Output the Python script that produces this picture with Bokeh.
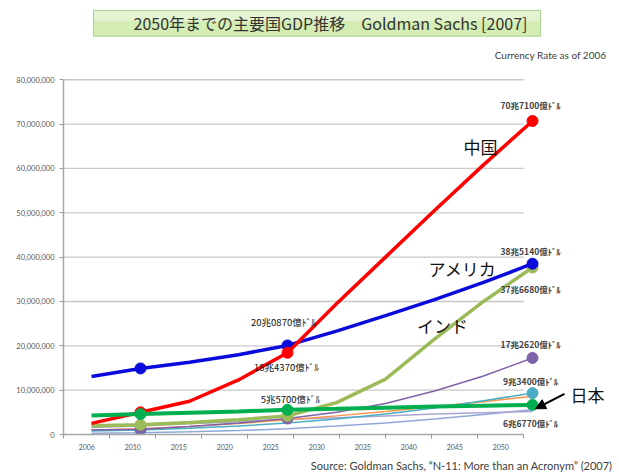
from bokeh.plotting import figure
from bokeh.models import Range1d, FixedTicker, NumeralTickFormatter, Title, Arrow, NormalHead
from bokeh.embed import file_html
from bokeh.resources import INLINE
from bokeh.core.properties import value

# ---------------- data (US$ million) ----------------
years = ["2006", "2010", "2015", "2020", "2025", "2030", "2035", "2040", "2045", "2050"]
china = [2_500_000, 5_000_000, 7_500_000, 12_300_000, 18_437_000, 29_500_000, 40_000_000, 50_500_000, 60_800_000, 70_710_000]
usa = [13_100_000, 14_900_000, 16_300_000, 18_000_000, 20_087_000, 23_300_000, 26_800_000, 30_400_000, 34_300_000, 38_514_000]
india = [2_000_000, 2_200_000, 2_700_000, 3_300_000, 4_200_000, 7_200_000, 12_500_000, 21_500_000, 30_000_000, 37_668_000]
japan = [4_300_000, 4_600_000, 4_900_000, 5_200_000, 5_570_000, 5_800_000, 6_050_000, 6_300_000, 6_500_000, 6_677_000]
purple_s = [1_000_000, 1_200_000, 1_800_000, 2_600_000, 3_600_000, 5_000_000, 7_000_000, 9_800_000, 13_200_000, 17_262_000]
lightblue_s = [800_000, 1_000_000, 1_400_000, 1_900_000, 2_600_000, 3_500_000, 4_600_000, 6_000_000, 7_600_000, 9_340_000]
orange_s = [1_000_000, 1_300_000, 1_800_000, 2_500_000, 3_300_000, 4_200_000, 5_200_000, 6_300_000, 7_400_000, 8_600_000]
lavender_s = [1_600_000, 1_900_000, 2_400_000, 2_900_000, 3_400_000, 3_800_000, 4_200_000, 4_600_000, 4_900_000, 5_200_000]
paleblue_s = [300_000, 400_000, 600_000, 900_000, 1_300_000, 1_900_000, 2_600_000, 3_500_000, 4_500_000, 5_600_000]
y_ticks = [0, 10_000_000, 20_000_000, 30_000_000, 40_000_000, 50_000_000, 60_000_000, 70_000_000, 80_000_000]
marker_years = ["2010", "2025", "2050"]

title_text = "2050年までの主要国GDP推移　Goldman Sachs [2007]"
currency_text = "Currency Rate as of 2006"
source_text = "Source: Goldman Sachs, \u201cN-11: More than an Acronym\u201d (2007)"

# ---------------- layout helpers (figure pixels) ----------------
W, H = 619, 475
LAB0, LABSTEP = 86.3, 46.0      # axis label positions
DAT0, DATSTEP = 91.0, 49.0      # data positions
Y0, PXM = 438.0, 4.475e-6       # px per unit value
FL, FR, FT, FB = 63, 612, 0, 438

def mx(px):
    return (px - LAB0) / LABSTEP

def dx(px):
    return (px - DAT0) / DATSTEP

def dy(py):
    return (Y0 - py) / PXM

def fmt(v):
    cho = int(v // 1_000_000)
    oku = int(round((v % 1_000_000) / 100))
    return f"{cho}兆{oku:04d}億ﾄﾞﾙ"

p = figure(width=W, height=H, output_backend="svg", toolbar_location=None,
           x_range=Range1d(mx(FL), mx(FR)), y_range=Range1d(0, dy(FT)),
           min_border_left=FL, min_border_right=W - FR, min_border_top=FT,
           min_border_bottom=H - FB)
p.extra_x_ranges = {"data": Range1d(dx(FL), dx(FR))}
p.outline_line_color = None
p.xgrid.visible = False
p.ygrid.visible = False
p.background_fill_color = "white"
p.border_fill_color = "white"

n = len(years)
# x axis
p.xaxis.ticker = FixedTicker(ticks=list(range(n)), minor_ticks=[i - 0.5 for i in range(n + 1)])
p.xaxis.major_label_overrides = {i: y for i, y in enumerate(years)}
p.xaxis.bounds = (-0.5, n - 0.5)
p.xaxis.major_tick_line_color = None
p.xaxis.major_tick_out = 0
p.xaxis.minor_tick_in = 0
p.xaxis.minor_tick_out = 4
p.xaxis.minor_tick_line_color = "#9a9a9a"
p.xaxis.axis_line_color = "#a6a6a6"
p.xaxis.axis_line_width = 1.5
p.xaxis.major_label_standoff = 5
p.xaxis.major_label_text_font = "Lato"
p.xaxis.major_label_text_font_size = "7px"
p.xaxis.major_label_text_color = "#595959"
# y axis
p.yaxis.ticker = FixedTicker(ticks=y_ticks)
p.yaxis.formatter = NumeralTickFormatter(format="0,0")
p.yaxis.bounds = (y_ticks[0], y_ticks[-1])
p.yaxis.major_tick_in = 0
p.yaxis.major_tick_out = 4
p.yaxis.major_tick_line_color = "#9a9a9a"
p.yaxis.minor_tick_line_color = None
p.yaxis.axis_line_color = "#a6a6a6"
p.yaxis.axis_line_width = 1.5
p.yaxis.major_label_standoff = 5
p.yaxis.major_label_text_font = "Lato"
p.yaxis.major_label_text_font_size = "7.5px"
p.yaxis.major_label_text_color = "#595959"

# gridlines limited to the original plot area
gt = y_ticks[1:]
p.segment(x0=[-0.5] * len(gt), x1=[n - 0.5] * len(gt), y0=gt, y1=gt,
          line_color="#c8c8c8", line_width=1.3)

# title box
p.quad(left=[mx(93)], right=[mx(540)], top=[dy(10)], bottom=[dy(36)],
       fill_color="#d3edb3", line_color=None)
p.quad(left=[mx(93)], right=[mx(540)], top=[dy(10)], bottom=[dy(21)],
       fill_color="#e4f4d0", line_color=None)
p.quad(left=[mx(93)], right=[mx(540)], top=[dy(10)], bottom=[dy(36)],
       fill_color=None, line_color="#a9d08e", line_width=1)
p.text(x=[mx(330)], y=[dy(23)], text=[title_text], text_font=value("Noto Sans CJK JP"),
       text_font_size="16px", text_color="#333333", text_align="center", text_baseline="middle")
p.text(x=[mx(606)], y=[dy(55)], text=[currency_text], text_font=value("Lato"),
       text_font_size="10px", text_color="#404040", text_align="right", text_baseline="middle")

idx = list(range(n))
mi = [years.index(y) for y in marker_years]

series = [
    (paleblue_s, "#8fa8d8", 1.5, False),
    (lavender_s, "#a9a6d2", 1.5, False),
    (orange_s, "#f79646", 1.5, False),
    (lightblue_s, "#4bacc6", 1.5, "end"),
    (purple_s, "#7f62a8", 1.5, True),
    (india, "#9bbb59", 3.5, True),
    (usa, "#0a0adc", 3.5, True),
    (china, "#ff0000", 3.5, True),
    (japan, "#00b050", 4.0, True),
]
for vals, col, lw, mk in series:
    p.line(x=idx, y=vals, x_range_name="data", line_color=col, line_width=lw)
    if mk:
        pts = mi if mk is True else [mi[0], mi[-1]]
        p.scatter(x=pts, y=[vals[i] for i in pts], x_range_name="data", size=11,
                  fill_color=col, line_color=col)

# 2050 value labels
last = n - 1
end_series = [china, usa, india, purple_s, lightblue_s, japan]
end_offsets = [-16, -13, 22, -14, -12, 18]
p.text(x=[last] * len(end_series), y=[s[last] for s in end_series],
       text=[fmt(s[last]) for s in end_series], x_range_name="data",
       x_offset=-2, y_offset=end_offsets, text_font=value("Noto Sans CJK JP"),
       text_font_style="bold", text_font_size="8.5px", text_color="#404040",
       text_align="center", text_baseline="middle")

# 2025 value labels
k = years.index("2025")
mid_series = [usa, china, japan]
p.text(x=[k] * 3, y=[s[k] for s in mid_series], text=[fmt(s[k]) for s in mid_series],
       x_range_name="data", x_offset=[-4, -1, 3], y_offset=[-23, 14, -11],
       text_font=value("Noto Sans CJK JP"), text_font_size="9.5px", text_color="#111111",
       text_align="center", text_baseline="middle")

# country names
names = ["中国", "アメリカ", "インド", "日本"]
name_px = [(480, 147), (462, 270), (442, 328), (587, 398)]
p.text(x=[mx(a) for a, b in name_px], y=[dy(b) for a, b in name_px], text=names,
       text_font=value("Noto Sans CJK JP"), text_font_size="17px", text_color="#111111",
       text_align="center", text_baseline="middle")

p.add_layout(Arrow(end=NormalHead(size=10, fill_color="black", line_color="black"),
                   x_start=mx(564), y_start=dy(397), x_end=mx(535), y_end=dy(412),
                   line_width=2, line_color="black"))

p.add_layout(Title(text=source_text, align="right", text_font="Lato", text_font_size="11px",
                   text_color="#404040", text_font_style="normal", standoff=8), "below")

open("out.html", "w").write(file_html(p, INLINE))
